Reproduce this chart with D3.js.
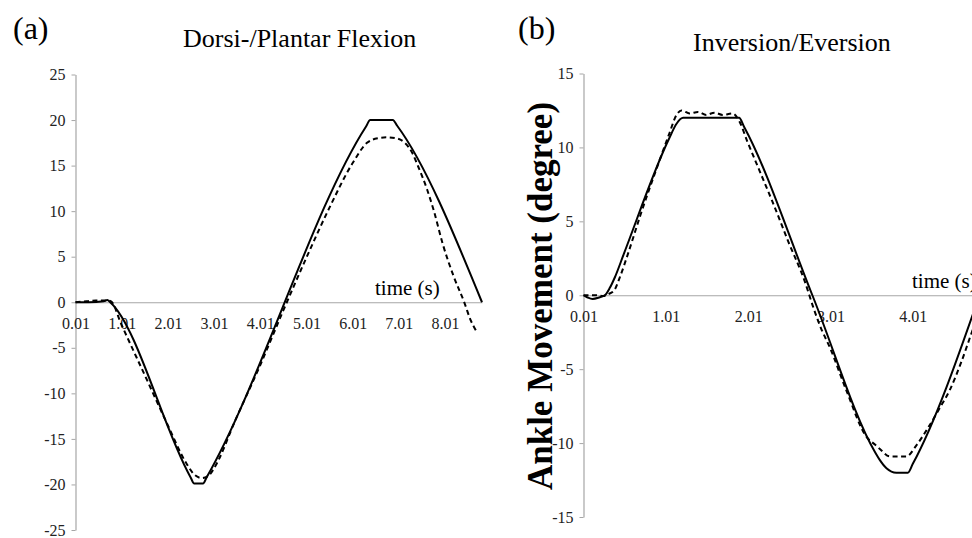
<!DOCTYPE html>
<html>
<head>
<meta charset="utf-8">
<script src="https://cdn.jsdelivr.net/npm/d3@7/dist/d3.min.js"></script>
<style>
body { margin: 0; background: #fff; }
svg { display: block; font-family: "Liberation Serif", "Times New Roman", serif; }
svg text { font-family: "Liberation Serif", "Times New Roman", serif; }
</style>
</head>
<body>
<script>
var w = 972;
var h = 538;

// (a) Dorsi-/Plantar Flexion, [time, degree]
var dorsiSolid = [[0.01, 0], [0.3, 0], [0.62, 0.1], [0.7, 0.25], [0.76, 0],
    [2.5, -19.2], [2.58, -19.9], [2.77, -19.9], [2.85, -19.2],
    [6.3, 19.3], [6.39, 20], [6.88, 20], [6.97, 19.4], [8.81, 0]];
var dorsiDashed = [[0.01, 0], [0.25, 0.1], [0.45, 0.2], [0.7, 0.2], [0.78, 0.1],
    [1.0, -2.4], [1.5, -7.9], [2.0, -13.4], [2.4, -17.6], [2.6, -19.0], [2.75, -19.3],
    [2.9, -19.0], [3.0, -18.3], [3.5, -12.6], [4.0, -7.0], [4.5, -1.0], [5.0, 4.8],
    [5.5, 10.3], [6.0, 15.2], [6.32, 17.5], [6.55, 18.0], [6.75, 18.1], [6.95, 18.0],
    [7.14, 17.5], [7.3, 16.4], [7.42, 15.0], [7.62, 12.4], [7.77, 10.0], [7.96, 6.4],
    [8.2, 2.8], [8.44, -0.2], [8.55, -1.8], [8.68, -3.1]];
var dorsiYTicks = [25, 20, 15, 10, 5, 0, -5, -10, -15, -20, -25];
var dorsiXTicks = [0.01, 1.01, 2.01, 3.01, 4.01, 5.01, 6.01, 7.01, 8.01];

// (b) Inversion/Eversion, [time, degree]
var invSolid = [[0.01, 0], [0.06, -0.15], [0.12, -0.25], [0.2, -0.15], [0.27, 0],
    [0.33, 0.5], [0.39, 1.2], [0.5, 2.8], [1.05, 10.6], [1.14, 11.6], [1.22, 12],
    [1.9, 12], [1.96, 11.4], [2.79, 0], [3.55, -10.6], [3.61, -11.15], [3.69, -11.7],
    [3.81, -12], [3.95, -12], [4.01, -11.4], [4.82, 0]];
var invDashed = [[0.01, 0], [0.15, 0], [0.25, -0.05], [0.32, 0.1], [0.38, 0.3],
    [0.45, 1.2], [0.55, 2.8], [0.7, 5.4], [0.9, 8.6], [1.05, 10.9], [1.14, 12.2],
    [1.2, 12.5], [1.3, 12.3], [1.4, 12.4], [1.5, 12.2], [1.6, 12.35], [1.7, 12.2],
    [1.82, 12.3], [1.9, 11.8], [2.0, 10.4], [2.15, 8.4], [2.3, 6.4], [2.5, 3.6],
    [2.7, 0.9], [2.8, -0.8], [2.9, -2.3], [3.0, -3.5], [3.2, -6.4], [3.45, -9.6],
    [3.55, -10.1], [3.61, -10.4], [3.73, -10.9], [3.93, -10.9], [4.06, -10.1],
    [4.18, -9.1], [4.34, -7.6], [4.46, -6.4], [4.6, -4.5], [4.74, -2.3], [4.85, -0.7]];
var invYTicks = [15, 10, 5, 0, -5, -10, -15];
var invXTicks = [0.01, 1.01, 2.01, 3.01, 4.01];

var svg = d3.select("body")
    .append("svg")
    .attr("width", w)
    .attr("height", h);

function drawPanel(p) {
    var x = d3.scaleLinear().domain(p.xDomain).range(p.xRange);
    var y = d3.scaleLinear().domain(p.yDomain).range(p.yRange);

    var yAxis = svg.append("g")
        .attr("transform", "translate(" + p.xRange[0] + ",0)")
        .call(d3.axisLeft(y).tickValues(p.yTicks).tickSize(4).tickSizeOuter(0).tickPadding(6)
            .tickFormat(function (d) { return String(d); }));

    var xAxis = svg.append("g")
        .attr("transform", "translate(0," + y(0) + ")")
        .call(d3.axisBottom(x).tickValues(p.xTicks).tickSize(0).tickPadding(15)
            .tickFormat(function (d) { return d.toFixed(2); }));

    [yAxis, xAxis].forEach(function (g) {
        g.attr("font-family", null).attr("font-size", null);
        g.select(".domain").attr("stroke", "#a6a6a6").attr("stroke-width", 1.2);
        g.selectAll(".tick line").attr("stroke", "#a6a6a6");
        g.selectAll("text")
            .attr("font-size", 16)
            .attr("fill", "#222");
    });

    var line = d3.line()
        .x(function (d) { return x(d[0]); })
        .y(function (d) { return y(d[1]); })
        .curve(d3.curveMonotoneX);

    svg.append("path")
        .datum(p.dashed)
        .attr("d", line)
        .attr("fill", "none")
        .attr("stroke", "#000")
        .attr("stroke-width", 2)
        .attr("stroke-dasharray", "5,3.5");

    svg.append("path")
        .datum(p.solid)
        .attr("d", line)
        .attr("fill", "none")
        .attr("stroke", "#000")
        .attr("stroke-width", 2);

    svg.append("text")
        .text(p.letter)
        .attr("x", p.letterX)
        .attr("y", 39)
        .attr("font-size", 32);

    svg.append("text")
        .text(p.title)
        .attr("x", p.titleX)
        .attr("y", p.titleY)
        .attr("font-size", 26);

    svg.append("text")
        .text("time (s)")
        .attr("x", p.timeX)
        .attr("y", y(0) - 7)
        .attr("font-size", 21);
}

drawPanel({
    solid: dorsiSolid, dashed: dorsiDashed,
    yTicks: dorsiYTicks, xTicks: dorsiXTicks,
    xDomain: [0.01, 8.81], xRange: [75.5, 482],
    yDomain: [-25, 25], yRange: [530, 74.5],
    letter: "(a)", letterX: 13,
    title: "Dorsi-/Plantar Flexion", titleX: 183, titleY: 47,
    timeX: 375
});

drawPanel({
    solid: invSolid, dashed: invDashed,
    yTicks: invYTicks, xTicks: invXTicks,
    xDomain: [0.01, 4.82], xRange: [583.5, 979.5],
    yDomain: [-15, 15], yRange: [517, 73.5],
    letter: "(b)", letterX: 518,
    title: "Inversion/Eversion", titleX: 693, titleY: 51,
    timeX: 912
});

svg.append("text")
    .text("Ankle Movement (degree)")
    .attr("transform", "translate(552,296) rotate(-90)")
    .attr("text-anchor", "middle")
    .attr("font-weight", "bold")
    .attr("font-size", 35);
</script>
</body>
</html>
